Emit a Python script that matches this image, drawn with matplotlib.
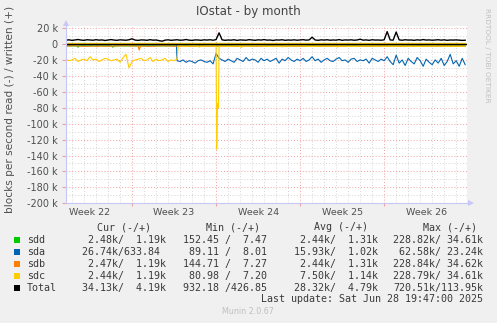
import numpy as np
import matplotlib
matplotlib.use("Agg")
import matplotlib.pyplot as plt
from matplotlib.patches import Rectangle
from matplotlib.lines import Line2D

W, H = 497, 323

# time axis in days, 0 = Monday of week 23
grid = np.arange(-5.5, 27.8, 0.25)

# total written (+), k blocks/s
total_write = [4.8, 5.2, 4.5, 5.0, 5.6, 4.9, 4.6, 5.3, 5.0, 4.7,
               5.4, 4.8, 5.1, 4.4, 5.0, 5.5, 4.9, 4.6, 5.2, 5.0,
               4.7, 5.3, 6.5, 4.9, 4.5, 5.1, 5.0, 4.6, 5.4, 4.8,
               5.0, 4.3, 3.5, 4.8, 5.2, 4.6, 5.0, 5.3, 4.7, 4.9,
               5.6, 4.8, 4.5, 5.1, 5.0, 4.6, 5.2, 4.9, 5.3, 4.7,
               5.5, 14.0, 5.2, 4.6, 5.0, 4.8, 5.3, 4.5, 5.1, 4.9,
               4.7, 5.4, 5.0, 4.6, 5.2, 4.9, 5.5, 4.8, 5.0, 4.4,
               5.1, 4.9, 5.3, 4.6, 5.0, 4.8, 5.2, 4.7, 5.0, 5.4,
               4.8, 5.1, 8.5, 5.0, 4.6, 5.2, 4.9, 5.3, 4.7, 5.0,
               4.8, 5.5, 4.6, 5.1, 4.9, 5.2, 4.7, 5.0, 6.0, 4.8,
               5.1, 4.6, 5.3, 4.9, 5.0, 4.7, 5.2, 15.5, 5.0, 4.8,
               15.0, 5.1, 4.7, 5.3, 4.9, 5.0, 4.6, 5.2, 4.8, 5.5,
               4.9, 5.1, 4.7, 5.0, 5.3, 4.8, 5.2, 4.6, 5.0, 4.9,
               5.1, 4.8, 4.5, 4.7]

# sdc read (-) while it was the busy disk, first 38 grid slots
sdc_read_early = [-19, -21, -20, -18, -22, -20, -19, -21, -16, -20,
                  -19, -22, -20, -18, -19, -21, -20, -19, -23, -17,
                  -13, -30, -22, -20, -19, -18, -21, -20, -17, -22,
                  -19, -21, -20, -18, -22, -20, -21, -19]
sdc_t_late = [3.85, 4.5, 5.0, 5.5, 5.6, 5.7, 6.3, 7.0, 7.05, 7.12, 7.2, 7.25,
              8.0, 9.0, 9.1, 9.2, 10.5, 11.5, 12.4, 12.5, 12.6, 13.8, 15.0,
              16.2, 17.0, 17.1, 17.2, 18.5, 19.6, 20.8, 22.5, 22.6, 22.7,
              23.9, 25.0, 26.2, 27.75]
sdc_read_late = [-2.6, -3.0, -2.2, -2.6, -4.0, -2.8, -2.3, -2.6, -132, -75, -80, -2.6,
                 -3.0, -2.4, -4.5, -2.7, -2.2, -3.0, -2.5, -3.8, -2.6, -2.2, -3.0,
                 -2.5, -2.6, -4.0, -2.4, -3.0, -2.2, -2.8, -2.4, -3.5, -2.6,
                 -3.0, -2.3, -2.8, -2.6]

# sda read (-) after the switch, from day 3.75
sda_read_late = [-21, -22, -20, -23, -21, -22, -24, -21, -20, -22,
                 -23, -21, -25, -12, -18,
                 -20, -22, -19, -21, -23, -18, -20, -22, -17, -21,
                 -19, -20, -23, -18, -21, -19, -22, -20, -18, -24,
                 -19, -21, -17, -20, -22, -19, -21,
                 -18, -22, -20, -16, -21, -19, -23, -20, -18, -21,
                 -22, -19, -17, -21, -20, -23, -19, -18, -22, -20,
                 -21, -19, -24, -18, -20, -22, -19, -21,
                 -16, -22, -26, -14, -24, -20, -27, -18, -22, -25,
                 -17, -21, -28, -19, -23, -26, -20, -24, -18, -27,
                 -22, -13, -25, -21, -28, -18, -26]
sda_t_early = [-5.5, 3.7]
sda_read_early = [-0.8, -0.8]

# small reads near zero
sdd_t = [-5.5, -4.6, -4.5, -4.4, -1.7, -1.6, -1.5, 27.75]
sdd_read = [-2.4, -2.4, -4.0, -2.4, -2.4, -4.0, -2.4, -2.4]
sdb_t = [-5.5, -4.8, -4.0, -3.0, -2.9, -2.8, -2.0, -1.0, 0.5, 0.6, 0.7, 1.5, 2.5, 3.5, 27.75]
sdb_read = [-2.8, -2.2, -3.0, -2.5, -3.5, -2.5, -2.9, -2.3, -2.5, -7.5, -2.5, -3.0, -2.3, -2.7, -2.6]

# writes (+)
write_t = [-5.5, 27.75]
sdd_write = [1.2, 1.2]
sda_write = [0.6, 0.6]
sdb_write = [1.2, 1.2]
sdc_write = [1.2, 1.2]

names = ["sdd", "sda", "sdb", "sdc", "Total"]
colors = ["#00CC00", "#0066B3", "#FF8000", "#FFCC00", "#000000"]
cur = ["  2.48k/  1.19k", " 26.74k/633.84 ", "  2.47k/  1.19k", "  2.44k/  1.19k", " 34.13k/  4.19k"]
mins = ["152.45 /  7.47 ", " 89.11 /  8.01 ", "144.71 /  7.27 ", " 80.98 /  7.20 ", "932.18 /426.85 "]
avgs = ["  2.44k/  1.31k", " 15.93k/  1.02k", "  2.44k/  1.31k", "  7.50k/  1.14k", " 28.32k/  4.79k"]
maxs = ["228.82k/ 34.61k", " 62.58k/ 23.24k", "228.84k/ 34.62k", "228.79k/ 34.61k", "720.51k/113.95k"]

weeks = ["Week 22", "Week 23", "Week 24", "Week 25", "Week 26"]
week_mid = [-3.5, 3.5, 10.5, 17.5, 24.5]

txt = "#3a3a3a"
axis_col = "#c8c8f8"


def fx(px):
    return px / W


def fy(py):
    return 1 - py / H


fig = plt.figure(figsize=(W / 100, H / 100), dpi=100, facecolor="#F0F0F0")
ax = fig.add_axes([fx(66), fy(203.3), fx(467) - fx(66), fy(25.5) - fy(203.3)])
ax.set_facecolor("white")

lw = 0.8
ax.plot(write_t, sdd_write, color=colors[0], lw=lw)
ax.plot(sdd_t, sdd_read, color=colors[0], lw=lw)
ax.plot(write_t, sda_write, color=colors[1], lw=lw)
ax.plot(sda_t_early + list(grid[37:]), sda_read_early + sda_read_late, color=colors[1], lw=lw)
ax.plot(write_t, sdb_write, color=colors[2], lw=lw)
ax.plot(sdb_t, sdb_read, color=colors[2], lw=lw)
ax.plot(write_t, sdc_write, color=colors[3], lw=lw)
ax.plot(list(grid[:38]) + sdc_t_late, sdc_read_early + sdc_read_late, color=colors[3], lw=lw)
ax.plot(grid, total_write, color=colors[4], lw=1.0)
ax.axhline(0, color="black", lw=1.0)

ax.set_xlim(-5.5, 27.9)
ax.set_ylim(-200, 23.2)

# grid: red dotted majors, grey dotted minors
ax.set_yticks(np.arange(-200, 21, 20))
ax.set_yticks(np.arange(-190, 21, 10), minor=True)
ax.set_xticks([0, 7, 14, 21])
ax.set_xticks(np.arange(-5, 28, 1), minor=True)
ax.grid(which="minor", color="#d4d4d4", ls=(0, (1, 2)), lw=0.7)
ax.grid(which="major", color="#f0a0a0", ls=(0, (1, 2)), lw=0.7)
ax.set_axisbelow(True)

ylabels = [("%d k" % v if v != 0 else "0") for v in range(-200, 21, 20)]
ax.set_yticklabels(ylabels, fontsize=7, color="#505050")
ax.set_xticklabels([])
ax.tick_params(axis="y", which="major", length=3, color="#f0a0a0", pad=3)
ax.tick_params(axis="x", which="major", length=2, color="#f0a0a0")
ax.tick_params(which="minor", length=0)

for s in ["top", "right"]:
    ax.spines[s].set_visible(False)
ax.spines["left"].set_color(axis_col)
ax.spines["bottom"].set_color(axis_col)

for lab, m in zip(weeks, week_mid):
    ax.text(m, -0.05, lab, transform=ax.get_xaxis_transform(), ha="center", va="center",
            fontsize=6.8, color="#505050")

# axis arrow heads
fig.add_artist(Line2D([fx(467), fx(470)], [fy(203.3)] * 2, color=axis_col, lw=0.8))
fig.add_artist(Line2D([fx(471)], [fy(203.3)], marker=">", ms=4, color=axis_col, mew=0))
fig.add_artist(Line2D([fx(66)] * 2, [fy(25.5), fy(24)], color=axis_col, lw=0.8))
fig.add_artist(Line2D([fx(66)], [fy(23)], marker="^", ms=4, color=axis_col, mew=0))

fig.text(fx(248), fy(12), "IOstat - by month", ha="center", va="center", fontsize=8.6, color="#444444")
fig.text(fx(10), fy(109), "blocks per second read (-) / written (+)", rotation=90,
         ha="center", va="center", fontsize=7.6, color="#505050")
fig.text(fx(487), fy(55), "RRDTOOL / TOBI OETIKER", rotation=270, ha="center", va="center",
         fontsize=5.3, color="#c0c0c0")

# legend table
mono = dict(family="DejaVu Sans Mono", fontsize=7.2, color=txt, va="center", ha="left")
hdr_y = 227
for lab, x in zip(["Cur (-/+)", "Min (-/+)", "Avg (-/+)", "Max (-/+)"], [97, 206, 314, 423]):
    fig.text(fx(x), fy(hdr_y), lab, **mono)
for i, n in enumerate(names):
    y = 240 + 12 * i
    fig.patches.append(Rectangle((fx(13.5), fy(y + 3.3)), fx(6.5), 6.5 / H, transform=fig.transFigure,
                                 facecolor=colors[i], edgecolor="none"))
    fig.text(fx(27), fy(y), n, **mono)
    fig.text(fx(76), fy(y), cur[i], **mono)
    fig.text(fx(183), fy(y), mins[i], **mono)
    fig.text(fx(288), fy(y), avgs[i], **mono)
    fig.text(fx(393), fy(y), maxs[i], **mono)

fig.text(fx(483), fy(299), "Last update: Sat Jun 28 19:47:00 2025", family="DejaVu Sans Mono",
         fontsize=7.2, color=txt, ha="right", va="center")
fig.text(fx(248), fy(312), "Munin 2.0.67", ha="center", va="center", fontsize=5.8, color="#c0c0c0")

fig.savefig("out.png", dpi=100, facecolor=fig.get_facecolor())
